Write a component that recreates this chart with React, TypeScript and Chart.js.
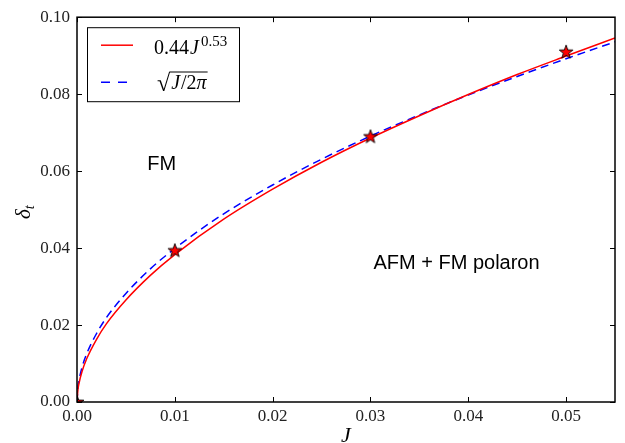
import React, { useEffect, useRef } from "react";
import { Chart, registerables } from "chart.js";

Chart.register(...registerables);

// ---- data ----
const jValues = [0, 0.0001, 0.0002, 0.0005, 0.001, 0.002, 0.003, 0.005, 0.0075, 0.01, 0.015, 0.02, 0.025, 0.03, 0.035, 0.04, 0.045, 0.05, 0.055];
const fitValues = [0, 0.0033, 0.0048, 0.0078, 0.0113, 0.0163, 0.0203, 0.0265, 0.0329, 0.0383, 0.0475, 0.0553, 0.0623, 0.0686, 0.0744, 0.0799, 0.0851, 0.0899, 0.0946];
const sqrtValues = [0, 0.004, 0.0056, 0.0089, 0.0126, 0.0178, 0.0219, 0.0282, 0.0346, 0.0399, 0.0489, 0.0564, 0.0631, 0.0691, 0.0746, 0.0798, 0.0846, 0.0892, 0.0936];
const starJ = [0, 0.01, 0.03, 0.05];
const starDelta = [0, 0.0394, 0.069, 0.091];
const xTickValues = [0, 0.01, 0.02, 0.03, 0.04, 0.05];
const yTickValues = [0, 0.02, 0.04, 0.06, 0.08, 0.1];
const xRange = [0, 0.055];
const yRange = [0, 0.1];
const regionTexts = ["FM", "AFM + FM polaron"];
const regionJ = [0.00866, 0.0388];
const regionDelta = [0.0602, 0.0346];

const RED = "#ff0000";
const BLUE = "#0000ff";
const SERIF = "'Liberation Serif', 'DejaVu Serif', serif";
const SANS = "'Liberation Sans', Arial, sans-serif";

function makeStar(): HTMLCanvasElement {
  const c = document.createElement("canvas");
  c.width = 18;
  c.height = 18;
  const g = c.getContext("2d")!;
  const cx = 9, cy = 9.4, ro = 7.2, ri = 2.9;
  g.beginPath();
  for (let i = 0; i < 10; i++) {
    const r = i % 2 === 0 ? ro : ri;
    const a = -Math.PI / 2 + (i * Math.PI) / 5;
    const px = cx + r * Math.cos(a);
    const py = cy + r * Math.sin(a);
    if (i === 0) g.moveTo(px, py);
    else g.lineTo(px, py);
  }
  g.closePath();
  g.fillStyle = RED;
  g.fill();
  g.lineWidth = 0.9;
  g.strokeStyle = "#000";
  g.stroke();
  return c;
}

const decorPlugin = {
  id: "decor",
  afterDatasetsDraw(chart: any) {
    const ctx: CanvasRenderingContext2D = chart.ctx;
    const a = chart.chartArea;
    const xs = chart.scales.x;
    const ys = chart.scales.y;
    ctx.save();
    // tick marks (inward, all four sides)
    ctx.strokeStyle = "#000";
    ctx.lineWidth = 1;
    ctx.beginPath();
    xTickValues.forEach((v) => {
      const px = Math.round(xs.getPixelForValue(v)) + 0.5;
      ctx.moveTo(px, a.bottom);
      ctx.lineTo(px, a.bottom - 5);
      ctx.moveTo(px, a.top);
      ctx.lineTo(px, a.top + 5);
    });
    yTickValues.forEach((v) => {
      const py = Math.round(ys.getPixelForValue(v)) + 0.5;
      ctx.moveTo(a.left, py);
      ctx.lineTo(a.left + 5, py);
      ctx.moveTo(a.right, py);
      ctx.lineTo(a.right - 5, py);
    });
    ctx.stroke();
    // frame
    ctx.lineWidth = 1.5;
    ctx.strokeRect(a.left, a.top, a.right - a.left, a.bottom - a.top);

    // region labels
    ctx.fillStyle = "#000";
    ctx.font = `20px ${SANS}`;
    ctx.textAlign = "center";
    ctx.textBaseline = "alphabetic";
    regionTexts.forEach((t, i) => {
      ctx.fillText(t, xs.getPixelForValue(regionJ[i]), ys.getPixelForValue(regionDelta[i]));
    });

    // legend
    const bx = a.left + 10, by = a.top + 10, bw = 152, bh = 74;
    ctx.fillStyle = "#fff";
    ctx.fillRect(bx, by, bw, bh);
    ctx.strokeStyle = "#000";
    ctx.lineWidth = 1;
    ctx.strokeRect(bx + 0.5, by + 0.5, bw, bh);
    ctx.lineWidth = 1.5;
    ctx.strokeStyle = RED;
    ctx.beginPath();
    ctx.moveTo(bx + 14, by + 18);
    ctx.lineTo(bx + 46, by + 18);
    ctx.stroke();
    ctx.strokeStyle = BLUE;
    ctx.setLineDash([9, 8]);
    ctx.beginPath();
    ctx.moveTo(bx + 14, by + 55);
    ctx.lineTo(bx + 46, by + 55);
    ctx.stroke();
    ctx.setLineDash([]);

    ctx.fillStyle = "#000";
    ctx.textAlign = "left";
    ctx.textBaseline = "alphabetic";
    let tx = bx + 67;
    const b1 = by + 27;
    ctx.font = `20px ${SERIF}`;
    ctx.fillText("0.44", tx, b1);
    tx += ctx.measureText("0.44").width + 1;
    ctx.font = `italic 20px ${SERIF}`;
    ctx.fillText("J", tx, b1);
    tx += ctx.measureText("J").width + 2;
    ctx.font = `15px ${SERIF}`;
    ctx.fillText("0.53", tx, b1 - 8);

    // sqrt(J/2π)
    const b2 = by + 62;
    tx = bx + 70;
    ctx.font = `24px ${SERIF}`;
    ctx.fillText("√", tx, b2 + 2);
    const rm = ctx.measureText("√");
    const rw = rm.width;
    const topY = b2 + 2 - rm.actualBoundingBoxAscent + 0.8;
    tx += rw - 0.5;
    const startBar = tx;
    tx += 1.5;
    ctx.font = `italic 20px ${SERIF}`;
    ctx.fillText("J", tx, b2);
    tx += ctx.measureText("J").width + 1;
    ctx.font = `20px ${SERIF}`;
    ctx.fillText("/2", tx, b2);
    tx += ctx.measureText("/2").width;
    ctx.font = `italic 20px ${SERIF}`;
    ctx.fillText("π", tx, b2);
    tx += ctx.measureText("π").width + 1;
    ctx.strokeStyle = "#000";
    ctx.lineWidth = 1;
    ctx.beginPath();
    ctx.moveTo(startBar, topY);
    ctx.lineTo(tx, topY);
    ctx.stroke();

    // axis titles
    ctx.fillStyle = "#000";
    ctx.textAlign = "center";
    ctx.font = `italic 22px ${SERIF}`;
    ctx.fillText("J", (a.left + a.right) / 2, 442);

    ctx.save();
    ctx.translate(30, 212);
    ctx.rotate(-Math.PI / 2);
    ctx.textAlign = "left";
    ctx.font = `italic 21px ${SERIF}`;
    ctx.fillText("δ", -7, 0);
    const dw = ctx.measureText("δ").width;
    ctx.font = `italic 14px ${SERIF}`;
    ctx.fillText("t", -7 + dw, 4);
    ctx.restore();

    ctx.restore();
  },
};

export default function App() {
  const ref = useRef<HTMLCanvasElement | null>(null);
  useEffect(() => {
    if (!ref.current) return;
    const star = makeStar();
    const chart = new Chart(ref.current, {
      type: "scatter",
      data: {
        datasets: [
          {
            label: "0.44J^0.53",
            data: jValues.map((x, i) => ({ x, y: fitValues[i] })),
            showLine: true,
            borderColor: RED,
            borderWidth: 1.5,
            pointRadius: 0,
            cubicInterpolationMode: "monotone",
            fill: false,
            order: 2,
          } as any,
          {
            label: "sqrt(J/2pi)",
            data: jValues.map((x, i) => ({ x, y: sqrtValues[i] })),
            showLine: true,
            borderColor: BLUE,
            borderWidth: 1.5,
            borderDash: [8, 5],
            pointRadius: 0,
            cubicInterpolationMode: "monotone",
            fill: false,
            order: 3,
          } as any,
          {
            label: "points",
            data: starJ.map((x, i) => ({ x, y: starDelta[i] })),
            showLine: false,
            pointStyle: star,
            pointRadius: 9,
            clip: 0,
            order: 1,
          } as any,
        ],
      },
      options: {
        animation: false,
        responsive: false,
        events: [],
        layout: { padding: { top: 15, right: 8, left: 0, bottom: 0 } },
        plugins: { legend: { display: false }, tooltip: { enabled: false } },
        scales: {
          x: {
            type: "linear",
            min: xRange[0],
            max: xRange[1],
            grid: { display: false, drawTicks: false },
            border: { display: false },
            afterBuildTicks: (s: any) => {
              s.ticks = xTickValues.map((v) => ({ value: v }));
            },
            afterFit: (s: any) => {
              s.height = 41;
            },
            ticks: {
              padding: 4,
              color: "#222",
              font: { family: SERIF, size: 17 },
              callback: (v: any) => Number(v).toFixed(2),
            },
          },
          y: {
            type: "linear",
            min: yRange[0],
            max: yRange[1],
            grid: { display: false, drawTicks: false },
            border: { display: false },
            afterBuildTicks: (s: any) => {
              s.ticks = yTickValues.map((v) => ({ value: v }));
            },
            afterFit: (s: any) => {
              s.width = 77;
            },
            ticks: {
              padding: 7,
              color: "#222",
              font: { family: SERIF, size: 17 },
              callback: (v: any) => Number(v).toFixed(2),
            },
          },
        },
      },
      plugins: [decorPlugin],
    });
    return () => chart.destroy();
  }, []);
  return (
    <div style={{ position: "fixed", left: 0, top: 0, width: 625, height: 443, background: "#fff" }}>
      <canvas ref={ref} width={625} height={443} style={{ display: "block" }} />
    </div>
  );
}
